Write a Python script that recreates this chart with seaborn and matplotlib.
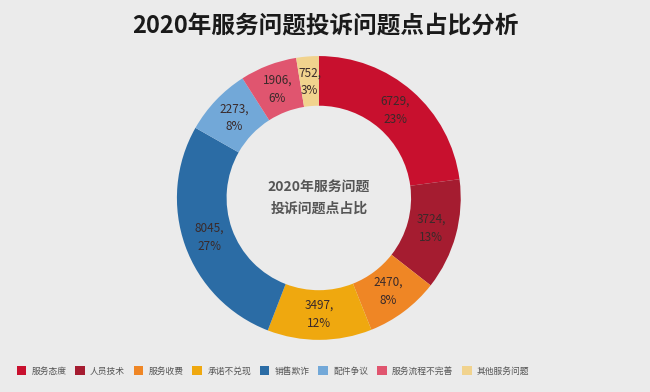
import matplotlib
matplotlib.use("Agg")
import matplotlib.pyplot as plt
import numpy as np
import seaborn as sns

categories = ["服务态度", "人员技术", "服务收费", "承诺不兑现",
              "销售欺诈", "配件争议", "服务流程不完善", "其他服务问题"]
counts = [6729, 3724, 2470, 3497, 8045, 2273, 1906, 752]
percents = ["23%", "13%", "8%", "12%", "27%", "8%", "6%", "3%"]
colors = ["#C8102E", "#A51C30", "#EF8625", "#EFA80F",
          "#2B6CA5", "#72A8D8", "#E0556F", "#F1D38E"]

sns.set_theme(style="white")
plt.rcParams["font.family"] = ["Noto Sans CJK SC", "DejaVu Sans"]

BG = "#EBEBEB"
fig = plt.figure(figsize=(6.5, 3.92), dpi=100, facecolor=BG)
ax = fig.add_axes([0.272, 0.133, 0.437, 0.724])
ax.set_facecolor(BG)

wedges, _ = ax.pie(counts, colors=colors, startangle=90, counterclock=False,
                   radius=1.0, wedgeprops=dict(width=0.35, edgecolor="none"))

# value labels in the middle of the ring
total = sum(counts)
angle = 90.0
for c, p in zip(counts, percents):
    span = 360.0 * c / total
    mid = np.deg2rad(angle - span / 2)
    r = 0.82
    ax.text(r * np.cos(mid), r * np.sin(mid), f"{c},\n{p}",
            ha="center", va="center", fontsize=8.5, color="#3a2a2a",
            linespacing=1.5)
    angle -= span

ax.text(0, 0, "2020年服务问题\n投诉问题点占比", ha="center", va="center",
        fontsize=10, fontweight="bold", color="#555555", linespacing=1.6)
ax.set_xlim(-1, 1)
ax.set_ylim(-1, 1)
ax.set_aspect("equal")
ax.axis("off")

fig.text(0.5, 0.935, "2020年服务问题投诉问题点占比分析", ha="center",
         va="center", fontsize=17, fontweight="bold", color="#1a1a1a")

leg = fig.legend(wedges, categories, loc="lower left", ncol=8,
                 bbox_to_anchor=(0.02, 0.033), frameon=False, fontsize=6.3,
                 handlelength=1.1, handleheight=1.1, handletextpad=0.6,
                 columnspacing=1.0, borderaxespad=0)
for t in leg.get_texts():
    t.set_color("#555555")

fig.savefig("out.png", dpi=100, facecolor=BG)
